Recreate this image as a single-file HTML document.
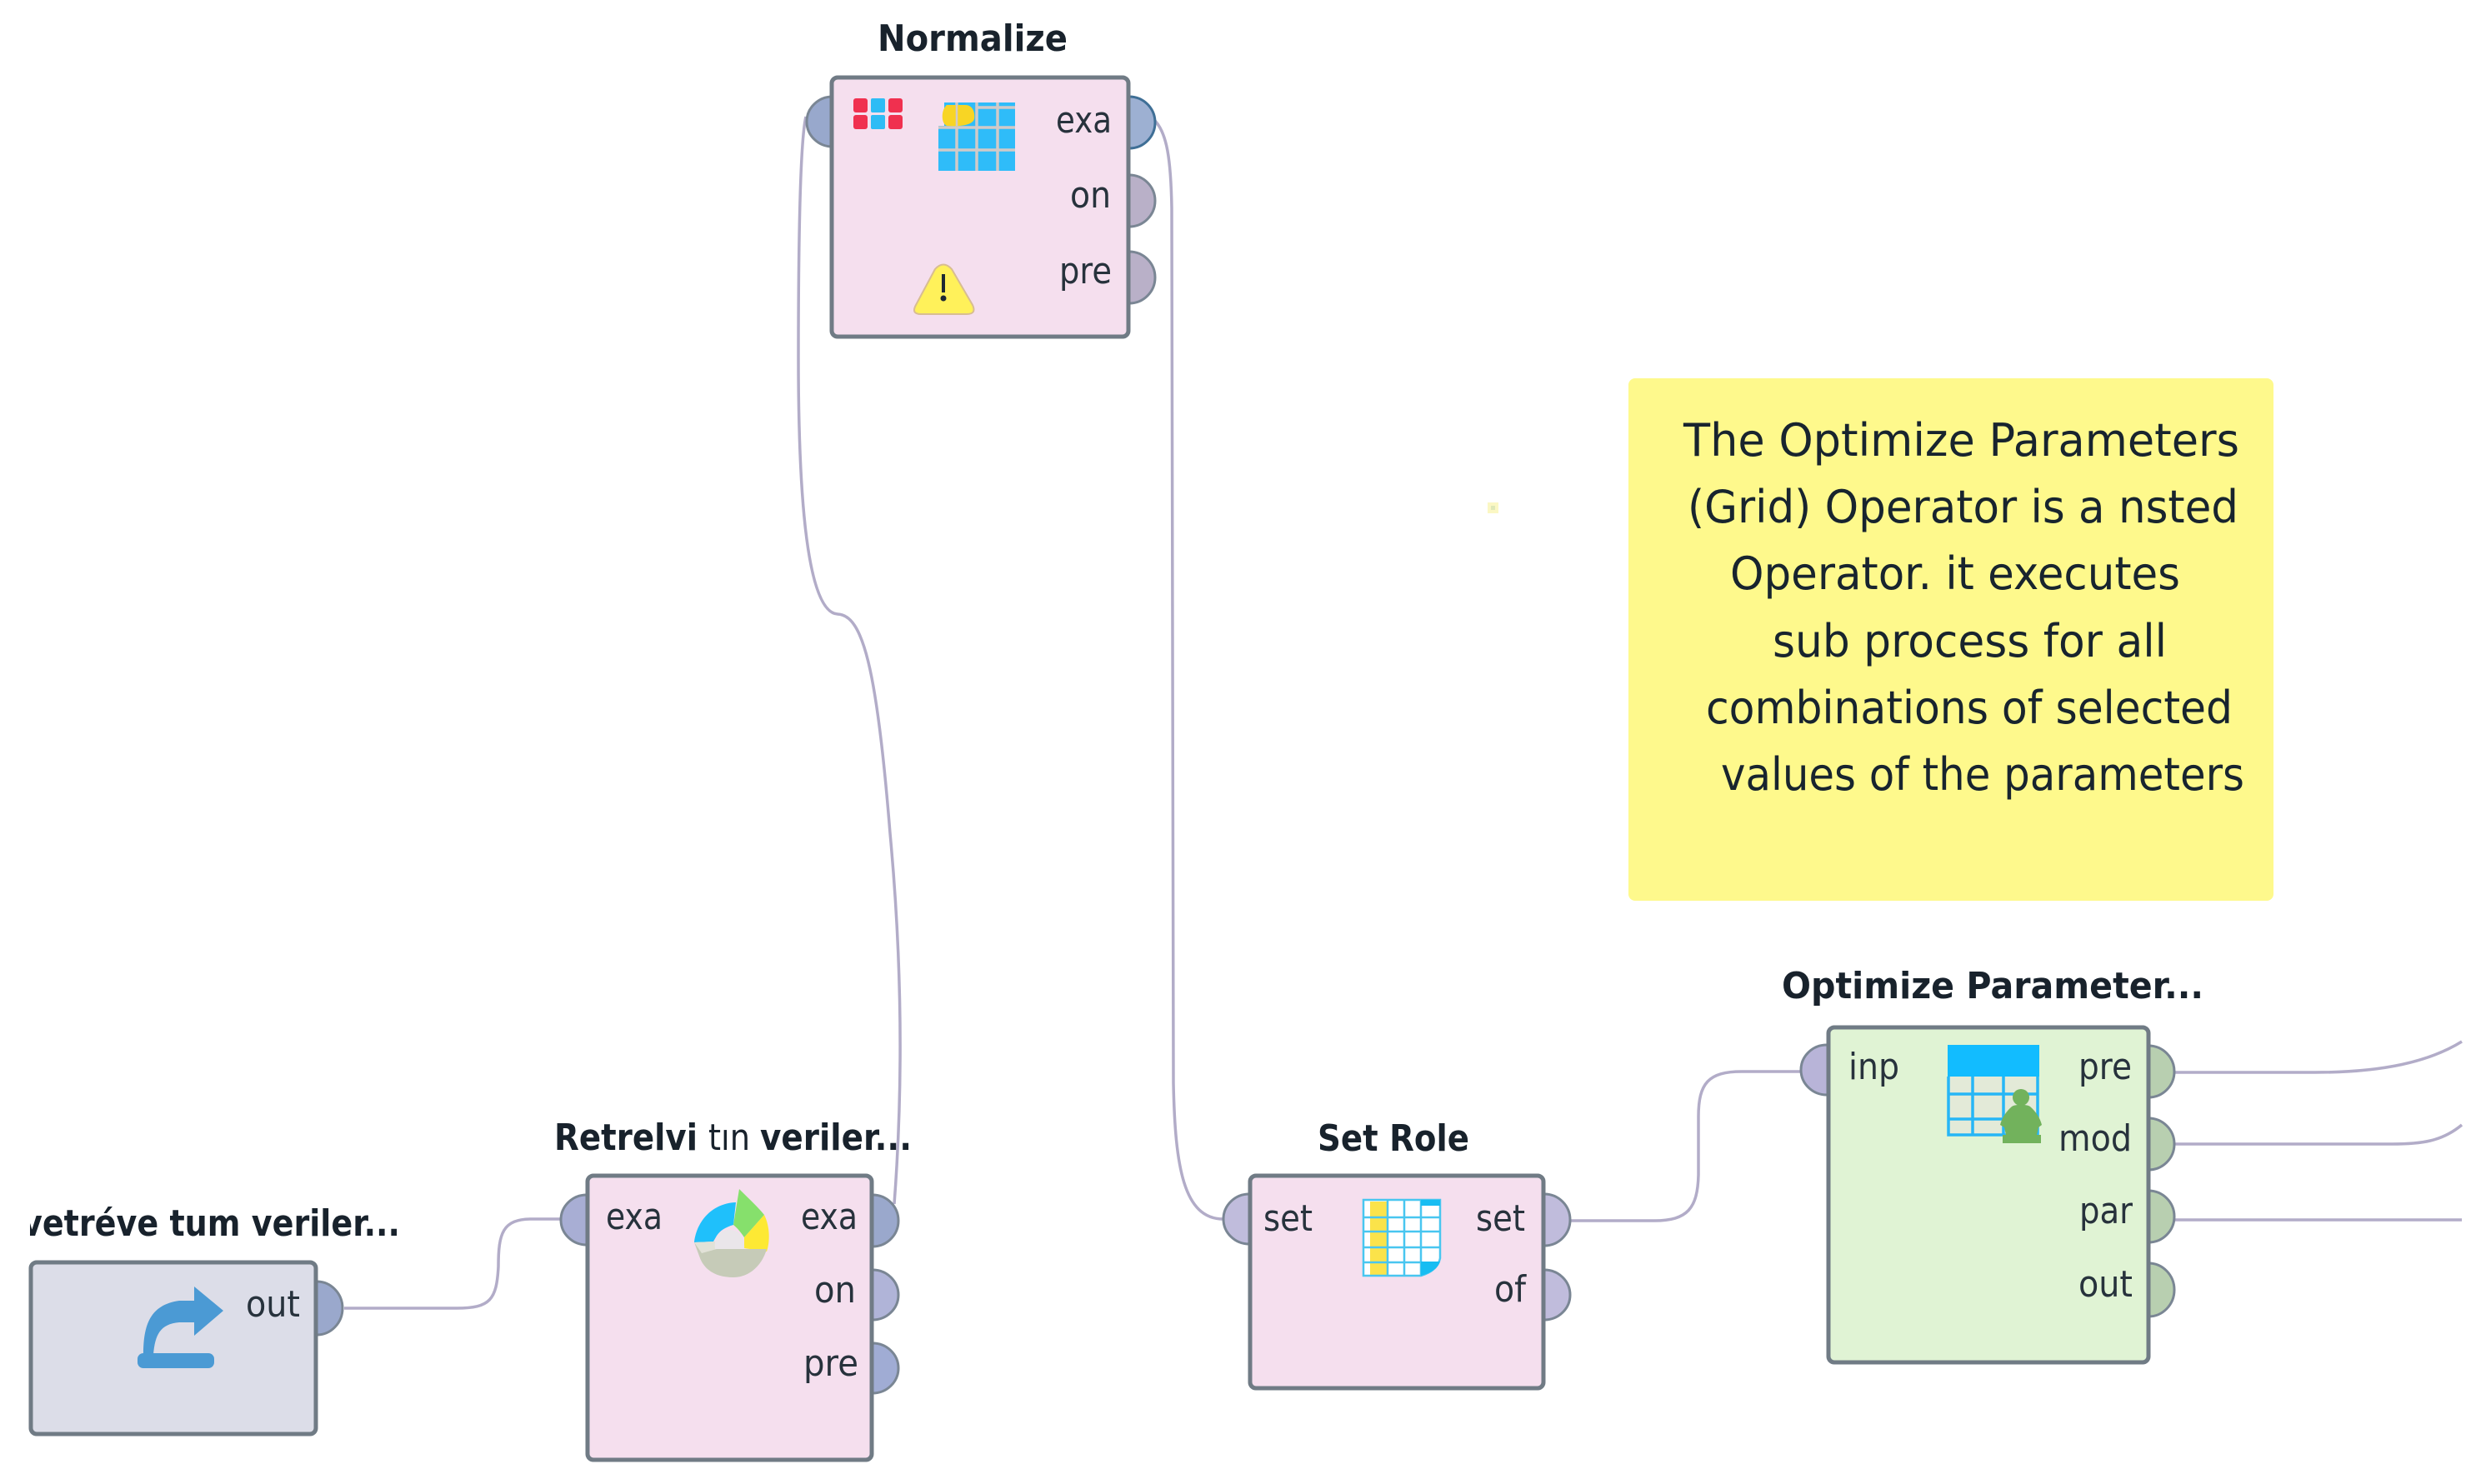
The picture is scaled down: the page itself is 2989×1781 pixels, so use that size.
<!DOCTYPE html>
<html>
<head>
<meta charset="utf-8">
<style>
html,body{margin:0;padding:0;background:#fff;width:2989px;height:1781px;overflow:hidden}
svg{display:block}
text{font-family:"DejaVu Sans","Liberation Sans",sans-serif;fill:#1e2933}
.t{font-weight:700;font-size:44px;fill:#18222c}
.l{font-size:44px;fill:#27323c}
.n{font-size:54px;fill:#18242e}
.c{fill:none;stroke:#b2acc8;stroke-width:3.5}
.b{stroke:#707b85;stroke-width:5}
.p{stroke:#7a8694;stroke-width:3}
</style>
</head>
<body>
<svg width="2989" height="1781" viewBox="0 0 2989 1781" xmlns="http://www.w3.org/2000/svg">
<defs><clipPath id="clipL"><rect x="36" y="1420" width="500" height="90"/></clipPath></defs>
<rect width="2989" height="1781" fill="#fff"/>

<!-- connectors -->
<path class="c" d="M967 140C960 170 958 300 958 430C958 560 964 735 1005 737C1035 738 1052 800 1068 1000C1082 1150 1084 1300 1073 1445"/>
<path class="c" d="M1386 145C1400 160 1405 190 1406 250L1408 1300C1410 1400 1420 1463 1468 1463"/>
<path class="c" d="M413 1570H548C588 1570 596 1560 598 1520C598 1480 603 1463 638 1463H673"/>
<path class="c" d="M1884 1465H1985C2025 1465 2037 1450 2038 1410V1340C2038 1300 2050 1286 2090 1286H2161"/>
<path class="c" d="M2609 1287H2778C2860 1287 2915 1274 2954 1250"/>
<path class="c" d="M2609 1373H2870C2905 1373 2930 1370 2954 1350"/>
<path class="c" d="M2609 1464H2954"/>

<!-- Normalize -->
<text class="t" x="1053" y="61" textLength="228" lengthAdjust="spacingAndGlyphs">Normalize</text>
<ellipse class="p" cx="999" cy="146" rx="31" ry="30" fill="#98a8cc"/>
<ellipse cx="1355" cy="147" rx="31" ry="31" fill="#9db0d2" stroke="#3f6f96" stroke-width="3"/>
<ellipse class="p" cx="1355" cy="241" rx="31" ry="31" fill="#b9b0c8"/>
<ellipse class="p" cx="1355" cy="333" rx="31" ry="31" fill="#b9b0c8"/>
<rect class="b" x="998" y="93" width="356" height="311" rx="7" fill="#f5dfee"/>
<g>
<rect x="1024" y="118" width="17" height="17" rx="3" fill="#f0304f"/><rect x="1045" y="118" width="17" height="17" rx="2" fill="#2ebcf5"/><rect x="1066" y="118" width="17" height="17" rx="3" fill="#f0304f"/>
<rect x="1024" y="138" width="17" height="17" rx="3" fill="#f0304f"/><rect x="1045" y="138" width="17" height="17" rx="2" fill="#2ebcf5"/><rect x="1066" y="138" width="17" height="17" rx="3" fill="#f0304f"/>
</g>
<path d="M1133 123H1218V205H1126V151H1133Z" fill="#2fbcf9"/>
<path d="M1148 123V205M1172 123V205M1197 123V205M1126 180H1218M1126 153H1218M1172 129H1218" stroke="#d0cac8" stroke-width="3.5" fill="none"/>
<path d="M1136 126H1158C1169 126 1170 138 1169 143C1166 151 1150 152 1136 151C1129 148 1129 132 1136 126Z" fill="#f8d524"/>
<path d="M1148 126V151" stroke="#d0cac8" stroke-width="2.5"/>
<path d="M1122 323Q1132 312 1142 323L1167 366Q1172 377 1160 377H1105Q1093 377 1099 366Z" fill="#fff15a" stroke="#d8bd92" stroke-width="2"/>
<path d="M1132 329V351" stroke="#1e2933" stroke-width="4"/><circle cx="1132" cy="358" r="3.5" fill="#1e2933"/>
<text class="l" x="1267" y="159" textLength="67" lengthAdjust="spacingAndGlyphs">exa</text>
<text class="l" x="1284" y="249" textLength="49" lengthAdjust="spacingAndGlyphs">on</text>
<text class="l" x="1271" y="340" textLength="63" lengthAdjust="spacingAndGlyphs">pre</text>

<!-- Retrieve tum -->
<text class="t" x="26" y="1483" textLength="454" lengthAdjust="spacingAndGlyphs" clip-path="url(#clipL)">vetréve tum veriler...</text>
<ellipse class="p" cx="380" cy="1570" rx="31" ry="32" fill="#9aa8cc"/>
<rect class="b" x="37" y="1515" width="342" height="206" rx="7" fill="#dcdde8"/>
<path d="M172 1626C172 1590 180 1566 215 1561H233V1544L268 1573L233 1603V1587H215C192 1589 186 1602 184 1626Z" fill="#4b9ad4"/>
<rect x="165" y="1624" width="92" height="18" rx="7" fill="#4b9ad4"/>
<text class="l" x="295" y="1580" textLength="65" lengthAdjust="spacingAndGlyphs">out</text>

<!-- Retrieve tin -->
<text class="t" x="665" y="1380" textLength="172" lengthAdjust="spacingAndGlyphs">Retrelvi</text>
<text class="t" x="850" y="1380" textLength="50" lengthAdjust="spacingAndGlyphs" style="font-weight:400">tın</text>
<text class="t" x="912" y="1380" textLength="182" lengthAdjust="spacingAndGlyphs">veriler...</text>
<ellipse class="p" cx="704" cy="1464" rx="31" ry="30" fill="#a8aed4"/>
<ellipse class="p" cx="1047" cy="1465" rx="31" ry="31" fill="#9aa8cc"/>
<ellipse class="p" cx="1047" cy="1554" rx="31" ry="30" fill="#b0b4d8"/>
<ellipse class="p" cx="1047" cy="1642" rx="31" ry="30" fill="#a0acd4"/>
<rect class="b" x="705" y="1411" width="341" height="341" rx="7" fill="#f5dfee"/>
<path d="M833 1491C836 1465 855 1444 883 1443L880 1470C870 1473 864 1477 860 1483L856 1490Z" fill="#1fc0fb"/>
<path d="M887 1427C898 1438 910 1449 917 1458L893 1485C889 1479 885 1474 880 1470Z" fill="#86e06c"/>
<path d="M917 1458C924 1472 924 1490 920 1502L893 1498V1485Z" fill="#fde934"/>
<path d="M833 1491L858 1490L860 1499H920C914 1520 898 1533 880 1533C860 1533 846 1525 840 1510Z" fill="#c6cbb8"/>
<path d="M833 1491L858 1490L860 1499L842 1504Z" fill="#e2e2d8"/>
<path d="M858 1499C856 1482 866 1476 875 1476C886 1476 894 1484 893 1499Z" fill="#eae6ea"/>
<text class="l" x="727" y="1475" textLength="68" lengthAdjust="spacingAndGlyphs">exa</text>
<text class="l" x="961" y="1475" textLength="68" lengthAdjust="spacingAndGlyphs">exa</text>
<text class="l" x="977" y="1563" textLength="50" lengthAdjust="spacingAndGlyphs">on</text>
<text class="l" x="964" y="1651" textLength="66" lengthAdjust="spacingAndGlyphs">pre</text>

<!-- Set Role -->
<text class="t" x="1581" y="1381" textLength="182" lengthAdjust="spacingAndGlyphs">Set Role</text>
<ellipse class="p" cx="1499" cy="1463" rx="31" ry="30" fill="#c0bcdc"/>
<ellipse class="p" cx="1853" cy="1464" rx="31" ry="31" fill="#c0bcdc"/>
<ellipse class="p" cx="1853" cy="1554" rx="31" ry="30" fill="#c0bcdc"/>
<rect class="b" x="1500" y="1411" width="352" height="255" rx="7" fill="#f5dfee"/>
<path d="M1636 1440H1728V1510Q1725 1525 1705 1531H1636Z" fill="#fff"/>
<rect x="1644" y="1442" width="20" height="88" fill="#fbe34a"/>
<path d="M1636 1440H1728V1510Q1725 1525 1705 1531H1636ZM1665 1440V1531M1685 1440V1531M1705 1440V1531M1636 1461H1728M1636 1478H1728M1636 1497H1728M1636 1515H1705" fill="none" stroke="#48c6f0" stroke-width="2.5"/>
<rect x="1705" y="1440" width="23" height="7" fill="#17bdf2"/>
<path d="M1705 1514H1728Q1724 1526 1705 1531Z" fill="#17bdf2"/>
<text class="l" x="1516" y="1477" textLength="59" lengthAdjust="spacingAndGlyphs">set</text>
<text class="l" x="1771" y="1477" textLength="59" lengthAdjust="spacingAndGlyphs">set</text>
<text class="l" x="1793" y="1562" textLength="38" lengthAdjust="spacingAndGlyphs">of</text>

<!-- Optimize -->
<text class="t" x="2138" y="1198" textLength="506" lengthAdjust="spacingAndGlyphs">Optimize Parameter...</text>
<ellipse class="p" cx="2192" cy="1284" rx="31" ry="30" fill="#b8b4d8"/>
<ellipse class="p" cx="2578" cy="1286" rx="31" ry="31" fill="#b8cfb0"/>
<ellipse class="p" cx="2578" cy="1373" rx="31" ry="31" fill="#b8cfb0"/>
<ellipse class="p" cx="2578" cy="1460" rx="31" ry="31" fill="#b8cfb0"/>
<ellipse class="p" cx="2578" cy="1548" rx="31" ry="32" fill="#b8cfb0"/>
<rect class="b" x="2194" y="1233" width="384" height="402" rx="7" fill="#e0f3d4"/>
<rect x="2338" y="1254" width="108" height="108" fill="#e3ead8"/>
<rect x="2337" y="1254" width="110" height="38" fill="#12bcff"/>
<path d="M2338 1292V1362H2445V1292M2367 1292V1362M2404 1292V1362M2338 1313H2445M2338 1343H2445" fill="none" stroke="#26b6f6" stroke-width="3.5"/>
<circle cx="2425" cy="1317" r="10" fill="#72b25c"/>
<path d="M2414 1328C2418 1325 2432 1325 2436 1328C2443 1334 2448 1342 2450 1350L2446 1353L2444 1362H2449V1372H2403V1362H2407L2405 1353L2400 1350C2402 1342 2407 1334 2414 1328Z" fill="#72b25c"/>
<text class="l" x="2218" y="1295" textLength="61" lengthAdjust="spacingAndGlyphs">inp</text>
<text class="l" x="2494" y="1295" textLength="64" lengthAdjust="spacingAndGlyphs">pre</text>
<text class="l" x="2470" y="1381" textLength="88" lengthAdjust="spacingAndGlyphs">mod</text>
<text class="l" x="2495" y="1468" textLength="64" lengthAdjust="spacingAndGlyphs">par</text>
<text class="l" x="2494" y="1556" textLength="65" lengthAdjust="spacingAndGlyphs">out</text>

<!-- Note -->
<rect x="1954" y="454" width="774" height="627" rx="8" fill="#fef98c"/>
<text class="n" x="2020" y="547" textLength="667" lengthAdjust="spacingAndGlyphs">The Optimize Parameters</text>
<text class="n" x="2025" y="627" textLength="661" lengthAdjust="spacingAndGlyphs">(Grid) Operator is a nsted</text>
<text class="n" x="2076" y="707" textLength="540" lengthAdjust="spacingAndGlyphs">Operator. it executes</text>
<text class="n" x="2127" y="788" textLength="473" lengthAdjust="spacingAndGlyphs">sub process for all</text>
<text class="n" x="2047" y="868" textLength="632" lengthAdjust="spacingAndGlyphs">combinations of selected</text>
<text class="n" x="2065" y="948" textLength="628" lengthAdjust="spacingAndGlyphs">values of the parameters</text>

<!-- speck -->
<rect x="1785" y="603" width="13" height="13" fill="#fbf7c4"/>
<rect x="1789" y="607" width="5" height="5" fill="#dfe8b8"/>
</svg>
</body>
</html>
